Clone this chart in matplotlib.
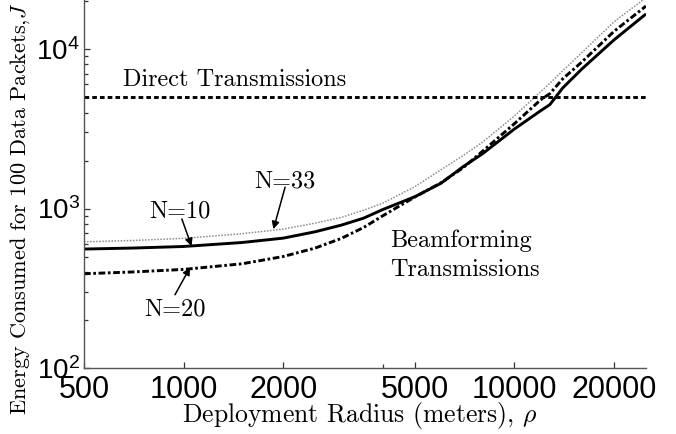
import matplotlib
matplotlib.use("Agg")
import matplotlib.pyplot as plt
from matplotlib.ticker import FixedLocator, LogLocator, NullFormatter

# ---------------- data ----------------
radius = [500, 700, 1000, 1500, 2000, 2500, 3000, 3500, 4000, 5000, 6000,
          7000, 8000, 10000, 12000, 12800, 14000, 16000, 20000, 25000]
energy_n10 = [557, 565, 578, 612, 652, 715, 787, 870, 985, 1185, 1440,
              1830, 2200, 3150, 4100, 4480, 5700, 7500, 11400, 16600]
energy_n20 = [390, 400, 415, 450, 500, 565, 650, 760, 900, 1180, 1450,
              1800, 2280, 3400, 4800, 5250, 6500, 8300, 12900, 18600]
energy_n33 = [618, 630, 650, 695, 743, 810, 880, 975, 1080, 1370, 1750,
              2150, 2600, 3800, 5400, 6100, 7300, 9500, 14800, 21000]
direct_x = [500, 25000]
direct_y = [5000, 5000]

xticks = [500, 1000, 2000, 5000, 10000, 20000]
xtick_labels = ["500", "1000", "2000", "5000", "10000", "20000"]

# ---------------- figure ----------------
plt.rcParams['font.family'] = ['Liberation Sans', 'DejaVu Sans']
fig = plt.figure(figsize=(6.76, 4.34), dpi=100)
ax = fig.add_axes([84 / 676, 66 / 434, 562 / 676, 368 / 434])
ax.set_xscale('log')
ax.set_yscale('log')

ax.plot(radius, energy_n33, color='#8c8c8c', lw=1.1, dashes=(1, 1))
ax.plot(radius, energy_n10, color='black', lw=2.1, solid_capstyle='butt')
ax.plot(radius, energy_n20, color='black', lw=2.1, dashes=(2.3, 0.9, 0.9, 0.9))
ax.plot(direct_x, direct_y, color='black', lw=2.1, dashes=(1.6, 1.05))

ax.set_xlim(500, 25000)
ax.set_ylim(100, 2.03e4)

for s in ['top', 'right']:
    ax.spines[s].set_visible(False)
for s in ['left', 'bottom']:
    ax.spines[s].set_color('#555555')
    ax.spines[s].set_linewidth(1.0)

ax.xaxis.set_major_locator(FixedLocator(xticks))
ax.set_xticklabels(xtick_labels)
ax.xaxis.set_minor_locator(FixedLocator([4000]))
ax.xaxis.set_minor_formatter(NullFormatter())
ax.yaxis.set_minor_locator(LogLocator(base=10, subs=range(2, 10)))
ax.yaxis.set_minor_formatter(NullFormatter())

ax.tick_params(which='both', direction='in', color='#333333', width=0.9)
ax.tick_params(which='major', length=4)
ax.tick_params(which='minor', length=3)
ax.tick_params(axis='x', which='major', pad=5, labelsize=22)
ax.tick_params(axis='y', which='major', pad=3, labelsize=20)

cm = dict(family='cmr10', math_fontfamily='cm')
ax.set_xlabel(r'Deployment Radius (meters), $\rho$', fontsize=18.5,
              va='baseline', **cm)
ax.xaxis.set_label_coords(0.49, -0.146)
ax.set_ylabel(r'Energy Consumed for 100 Data Packets,$J$', fontsize=16,
              va='center', **cm)
ax.yaxis.set_label_coords(-0.114, 0.433)

txt = dict(fontsize=17.5, color='black', **cm)
ax.text(1422, 5835, 'Direct Transmissions', ha='center', va='baseline', **txt)
ax.text(2027, 1359, 'N=33', ha='center', va='baseline', **txt)
ax.text(976, 883, 'N=10', ha='center', va='baseline', **txt)
ax.text(942, 213, 'N=20', ha='center', va='baseline', **txt)
ax.text(4212, 570, 'Beamforming', ha='left', va='baseline', **txt)
ax.text(4212, 376, 'Transmissions', ha='left', va='baseline', **txt)

arrow = dict(arrowstyle='-|>', color='black', lw=1.1, mutation_scale=11,
             shrinkA=0, shrinkB=0)
ax.annotate('', xy=(1869, 742), xytext=(2027, 1360), arrowprops=arrow)
ax.annotate('', xy=(1057, 581), xytext=(988, 860), arrowprops=arrow)
ax.annotate('', xy=(1046, 427), xytext=(942, 288), arrowprops=arrow)

fig.savefig('out.png', dpi=100)
